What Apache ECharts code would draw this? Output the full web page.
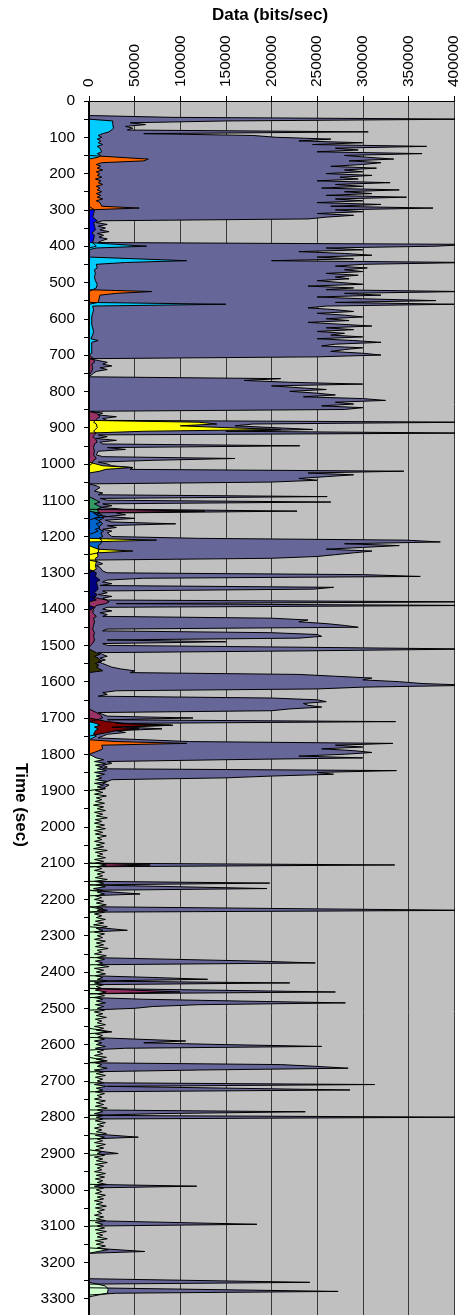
<!DOCTYPE html>
<html lang="en">
  <head>
    <meta charset="UTF-8" />
    <title>Data (bits/sec) over time</title>
    <script src="https://cdn.jsdelivr.net/npm/echarts@6/dist/echarts.min.js"></script>
    <style>
      html, body { margin: 0; padding: 0; background: #ffffff; }
      #chart { width: 463px; height: 1315px; }
    </style>
  </head>
  <body>
    <div id="chart"></div>
    <script>
      // one sample every 5 s, values in kbit/s
      // each run: [first second, value, value, ...] (5 s apart)
      const STEP = 5;
      const LAST_SECOND = 3345;
      const dataTicks = [0, 50000, 100000, 150000, 200000, 250000, 300000, 350000, 400000];

      // top of the traffic (the big purple layer)
      const purple = [
        [40, 0, 90, 420, 150, 45, 62, 40, 48, 42, 306, 60, 180],
        [100, 205, 265, 230, 300, 245, 370, 270, 295, 250, 365, 280, 305, 334, 285, 320, 300, 265, 315, 280, 300],
        [200, 260, 310, 275, 295, 250, 330, 270, 300, 255, 340, 280, 310, 260, 348, 270, 300, 250, 320, 265, 377],
        [300, 270, 300, 250, 290, 260, 240, 15, 8, 20, 10, 18, 12, 22, 9, 16, 11, 20, 14, 10, 420],
        [400, 380, 260, 300, 230, 280, 310, 250, 290, 200, 420, 300, 270, 305, 280, 300, 260, 295, 270, 285, 250],
        [500, 275, 300, 240, 290, 260, 410, 280, 320, 250, 300, 380, 270, 400, 260, 240, 270, 290, 250, 280, 300],
        [600, 260, 285, 240, 275, 310, 260, 290, 250, 280, 265, 300, 250, 290, 320, 270, 255, 300, 280, 265, 300],
        [700, 320, 250, 0, 10, 20, 15, 25, 12, 20, 8, 5, 3, 0, 210, 170, 220, 300, 200, 230, 260],
        [800, 220, 250, 270, 235, 300, 325, 270, 290, 255, 300, 280, 0, 15, 10, 30, 15, 20, 420, 180, 160],
        [900, 160, 245, 150, 420, 10, 20, 8, 30, 12, 15, 231, 20, 40, 10, 12, 8, 15, 160, 70, 10],
        [1000, 20, 25, 48, 45, 345, 240, 290, 260, 230, 250, 200, 0, 8, 12, 10, 6, 15, 10, 261, 12],
        [1100, 20, 265, 15, 25, 12, 40, 228, 30, 40, 20, 50, 18, 25, 95, 20, 30, 15, 25, 20, 18],
        [1200, 25, 120, 348, 385, 280, 340, 300, 260, 310, 290, 270, 250, 200, 0, 10, 15, 8, 12, 10, 15],
        [1300, 20, 300, 363, 60, 20, 15, 25, 12, 268, 246, 15, 20, 10, 25, 15, 20, 420, 30, 420, 20],
        [1400, 15, 25, 12, 20, 15, 200, 240, 230, 260, 280, 295, 20, 15, 200, 250, 255, 230, 20, 150, 15],
        [1500, 20, 230, 420, 240, 10, 15, 20, 12, 18, 10, 15, 20, 25, 35, 50, 45, 230, 270, 310, 300],
        [1600, 340, 365, 420, 300, 250, 30, 15, 20, 10, 200, 250, 260, 235, 240, 255, 220, 200, 10, 15, 20],
        [1700, 114, 20, 336, 30, 90, 40, 80, 30, 40, 20, 15, 10, 10, 110, 333, 270, 300, 255, 290, 310],
        [1800, 280, 230, 300, 150, 20, 25, 15, 20, 15, 337, 250, 268, 200, 150, 25, 20, 15, 22, 18, 15],
        [2100, 0, 335, 0],
        [2150, 0, 198, 0, 0, 195, 0, 0, 56, 0],
        [2225, 0, 420, 0],
        [2280, 0, 42, 0],
        [2365, 0, 186, 248, 0],
        [2410, 0, 70, 130, 0, 220, 0],
        [2450, 0, 270, 0],
        [2470, 0, 60, 166, 281, 120, 70, 50, 0],
        [2560, 0, 25, 0],
        [2585, 0, 106, 60, 150, 255, 40, 0],
        [2640, 0, 20, 0, 210, 250, 284, 120, 0],
        [2705, 0, 313, 20, 20, 286, 0],
        [2780, 0, 237, 80, 0, 420, 0],
        [2850, 0, 54, 0],
        [2895, 0, 32, 0],
        [2985, 0, 118, 0],
        [3090, 0, 184, 0],
        [3165, 0, 61, 0],
        [3250, 0, 242, 0, 0, 0, 0, 273, 30, 0]
      ];

      const plum = [
        [705, 0, 5, 4, 6, 3, 5, 4, 6, 3, 4, 0],
        [855, 0, 8, 6, 12, 9, 7, 5, 8, 6, 9, 7, 5, 8, 6, 4, 7, 5, 9, 6, 8, 5, 7, 6, 4, 5, 6, 8, 5, 4, 3, 0],
        [1125, 0, 127, 5, 8, 20, 6, 0],
        [1370, 0, 19, 22, 18, 8, 6, 5, 7, 4, 6, 8, 5, 7, 6, 4, 5, 6, 4, 5, 6, 7, 5, 4, 6, 5, 4, 3, 0],
        [1680, 0, 8, 12, 10, 15, 9, 0],
        [2100, 0, 67, 0],
        [2225, 0, 20, 0],
        [2450, 0, 100, 0]
      ];
      const darkRed = [[1705, 0, 20, 40, 92, 25, 55, 30, 20, 10, 0]];
      const yellow = [
        [880, 0, 120, 140, 100, 150, 210, 60, 0],
        [1000, 0, 15, 48, 18, 12, 0],
        [1205, 0, 74, 0],
        [1230, 0, 10, 48, 9, 8, 10, 7, 9, 8, 10, 7, 9, 8, 7, 0]
      ];
      const navy = [
        [1295, 0, 8, 10, 7, 9, 12, 8, 6, 9, 7, 10, 8, 6, 9, 7, 5, 8, 0],
        [1390, 0, 6, 8, 0]
      ];
      const olive = [[1515, 0, 8, 12, 6, 10, 9, 14, 7, 11, 8, 12, 15, 0]];
      const teal = [[1095, 0, 8, 12, 6, 10, 14, 9, 7, 11, 8, 12, 6, 10, 13, 8, 9, 12, 7, 10, 8, 0]];
      const midBlue = [[1130, 0, 10, 14, 12, 16, 11, 13, 15, 12, 14, 11, 16, 13, 12, 15, 11, 14, 12, 13, 10, 12, 11, 9, 10, 0]];
      const blue = [[295, 0, 6, 8, 5, 7, 4, 6, 9, 5, 3, 6, 4, 7, 5, 3, 6, 4, 5, 7, 4, 5, 8, 0]];
      const orange = [
        [155, 0, 65, 60, 14, 8, 13, 9, 15, 8, 12, 9, 14, 7, 13, 10, 15, 8, 12, 9, 14, 8, 13, 9, 15, 8, 12, 10, 14, 55, 0],
        [520, 0, 69, 30, 12, 10, 11, 12, 10, 0],
        [1760, 0, 30, 107, 14, 12, 15, 11, 13, 0]
      ];
      const cyan = [
        [50, 0, 26, 27, 26, 25, 27, 26, 22, 15, 10, 14, 9, 13, 10, 15, 9, 12, 10, 14, 9, 13, 10, 0],
        [390, 0, 30, 63, 8, 0],
        [435, 0, 107, 40, 8, 7, 9, 6, 8, 7, 9, 6, 8, 7, 6, 9, 7, 8, 6, 0],
        [555, 0, 150, 4, 3, 5, 3, 4, 2, 3, 5, 3, 4, 3, 2, 4, 3, 5, 3, 4, 3, 2, 10, 3, 4, 3, 2, 3, 2, 3, 0],
        [1710, 0, 8, 12, 6, 10, 7, 9, 5, 8, 4, 0]
      ];
      const paleGreen = [
        [1805, 0, 8, 16, 6, 18, 7, 15, 9, 19, 6, 17, 8, 14, 7, 20, 6, 16, 9, 18],
        [1900, 7, 15, 6, 19, 8, 14, 7, 17, 5, 16, 9, 18, 6, 15, 8, 20, 7, 14, 6, 17],
        [2000, 8, 18, 6, 15, 7, 19, 9, 14, 6, 17, 8, 16, 5, 20, 7, 15, 9, 18, 6, 16],
        [2100, 7, 19, 8, 14, 6, 17, 9, 15, 7, 20, 6, 16, 8, 18, 5, 15, 9, 17, 7, 14],
        [2200, 6, 16, 8, 19, 7, 15, 9, 17, 6, 14, 8, 18, 7, 16, 5, 20, 8, 15, 6, 17],
        [2300, 9, 15, 6, 18, 8, 16, 7, 21, 9, 14, 6, 19, 8, 17, 7, 15, 9, 22, 6, 16],
        [2400, 8, 18, 7, 15, 9, 20, 6, 16, 8, 14, 7, 19, 9, 17, 6, 15, 8, 18, 7, 16],
        [2500, 9, 17, 6, 15, 8, 19, 7, 14, 9, 18, 6, 16, 8, 20, 7, 15, 9, 17, 6, 14],
        [2600, 8, 18, 7, 16, 9, 15, 6, 19, 8, 17, 7, 14, 9, 20, 6, 16, 8, 18, 7, 15],
        [2700, 9, 16, 6, 19, 8, 15, 7, 17, 9, 14, 6, 18, 8, 16, 7, 20, 9, 15, 6, 17],
        [2800, 8, 15, 7, 18, 9, 16, 6, 14, 8, 19, 7, 17, 9, 15, 6, 18, 8, 16, 7, 14],
        [2900, 9, 17, 6, 15, 8, 20, 7, 16, 9, 14, 6, 18, 8, 17, 7, 15, 9, 19, 6, 16],
        [3000, 8, 14, 7, 18, 9, 16, 6, 15, 8, 19, 7, 17, 9, 14, 6, 16, 8, 18, 7, 15],
        [3100, 9, 17, 7, 19, 8, 15, 9, 20, 7, 16, 8, 18, 9, 21, 10, 0],
        [3260, 0, 18, 20, 21, 22, 20, 19, 0]
      ];

      const seconds = [];
      for (let t = 0; t <= LAST_SECOND; t += STEP) seconds.push(t);

      // spread the runs over the time axis (kbit/s -> bit/s)
      const expand = (runs) => {
        const out = new Array(seconds.length).fill(0);
        runs.forEach(([start, ...vals]) => {
          vals.forEach((v, i) => {
            const idx = start / STEP + i;
            if (idx < out.length) out[idx] = v * 1000;
          });
        });
        return out;
      };

      const layers = [
        { data: purple, color: "#666699" },
        { data: plum, color: "#993366" },
        { data: darkRed, color: "#800000" },
        { data: teal, color: "#339966" },
        { data: midBlue, color: "#0066CC" },
        { data: yellow, color: "#FFFF00" },
        { data: navy, color: "#000080" },
        { data: olive, color: "#333300" },
        { data: blue, color: "#0000FF" },
        { data: orange, color: "#FF6600" },
        { data: cyan, color: "#00CCFF" },
        { data: paleGreen, color: "#CCFFCC" },
      ];

      const FONT = '"Liberation Sans", Arial, sans-serif';
      const chart = echarts.init(document.getElementById("chart"), null, { renderer: "canvas" });

      const option = {
        animation: false,
        backgroundColor: "#ffffff",
        grid: {
          left: 89,
          right: 9,
          top: 101,
          bottom: 0,
          show: true,
          backgroundColor: "#C0C0C0",
          borderWidth: 0,
        },
        xAxis: {
          type: "value",
          position: "top",
          min: 0,
          max: 400000,
          interval: 50000,
          axisLine: { show: true, lineStyle: { color: "#000", width: 1 } },
          axisTick: { show: true, length: 5, lineStyle: { color: "#000" } },
          axisLabel: {
            rotate: -90,
            margin: 14,
            color: "#000",
            fontSize: 15.5,
            fontFamily: FONT,
            formatter: (v) => (dataTicks.includes(v) ? String(v) : ""),
          },
          splitLine: { show: true, lineStyle: { color: "#3a3a3a", width: 1 } },
        },
        yAxis: {
          type: "category",
          inverse: true,
          boundaryGap: false,
          data: seconds,
          axisLine: { show: true, lineStyle: { color: "#000", width: 1 } },
          axisTick: {
            show: true,
            length: 5,
            interval: (i, v) => Number(v) % 50 === 0,
            lineStyle: { color: "#000" },
          },
          axisLabel: {
            interval: (i, v) => Number(v) % 100 === 0,
            margin: 14,
            color: "#000",
            fontSize: 15.5,
            fontFamily: FONT,
          },
          splitLine: { show: false },
        },
        series: layers.map((layer) => ({
          type: "line",
          data: expand(layer.data),
          symbol: "none",
          showSymbol: false,
          clip: true,
          silent: true,
          lineStyle: { color: "#000", width: 1 },
          areaStyle: { color: layer.color, opacity: 1 },
        })),
        graphic: [
          {
            type: "text",
            x: 270,
            y: 15,
            style: {
              text: "Data (bits/sec)",
              font: "bold 17px " + FONT,
              fill: "#000",
              align: "center",
              verticalAlign: "middle",
            },
          },
          {
            type: "text",
            x: 21,
            y: 805,
            rotation: -Math.PI / 2,
            style: {
              text: "Time (sec)",
              font: "bold 17px " + FONT,
              fill: "#000",
              align: "center",
              verticalAlign: "middle",
            },
          },
        ],
      };

      chart.setOption(option);
    </script>
  </body>
</html>
